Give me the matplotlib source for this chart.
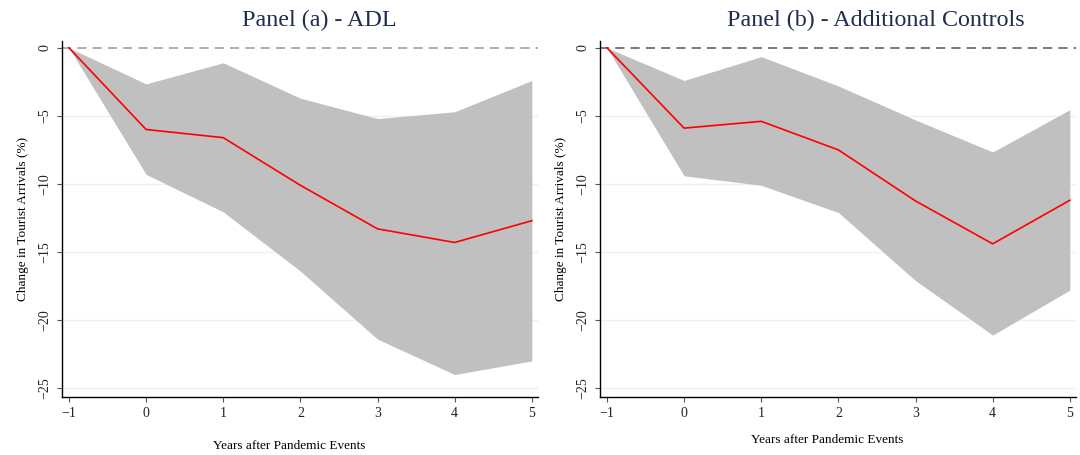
import numpy as np
import matplotlib.pyplot as plt

plt.rcParams['font.family'] = ['Liberation Serif', 'DejaVu Serif']

years = [-1, 0, 1, 2, 3, 4, 5]

# Panel (a): ADL estimates with confidence band
adl_est = [0, -6.0, -6.6, -10.1, -13.3, -14.3, -12.7]
adl_hi = [0, -2.65, -1.1, -3.7, -5.2, -4.7, -2.4]
adl_lo = [0, -9.3, -12.05, -16.4, -21.4, -24.0, -23.0]

# Panel (b): with additional controls
ctl_est = [0, -5.9, -5.4, -7.5, -11.25, -14.4, -11.2]
ctl_hi = [0, -2.4, -0.65, -2.8, -5.3, -7.65, -4.55]
ctl_lo = [0, -9.4, -10.1, -12.1, -17.1, -21.1, -17.8]

yticks = [0, -5, -10, -15, -20, -25]
titles = ['Panel (a) - ADL', 'Panel (b) - Additional Controls']

fig = plt.figure(figsize=(10.8, 4.55), dpi=100)
W, H = 1080, 455
ax_boxes = [(62, 41, 538, 397), (600, 41, 1076, 397)]
title_x = [319, 876]
dash_col = ['#999999', '#555555']
xlab_y = [446, 440]

panels = [(adl_est, adl_hi, adl_lo), (ctl_est, ctl_hi, ctl_lo)]
for i, (est, hi, lo) in enumerate(panels):
    l, t, r, b = ax_boxes[i]
    ax = fig.add_axes([l / W, 1 - b / H, (r - l) / W, (b - t) / H])
    ax.fill_between(years, lo, hi, color='#c0c0c0', linewidth=0, zorder=2)
    ax.plot(years, est, color='#ff0000', linewidth=1.2, zorder=3)
    ax.axhline(0, color=dash_col[i], linestyle=(0, (6, 4)), linewidth=1.1, zorder=1)
    for yv in yticks[1:]:
        ax.axhline(yv, color='#eaf2f3', linewidth=1.0, zorder=0)
    ax.set_xlim(-1.09, 5.08)
    ax.set_ylim(-25.65, 0.5)
    ax.set_xticks(years)
    ax.set_xticklabels(['\u22121', '0', '1', '2', '3', '4', '5'])
    ax.set_yticks(yticks)
    ax.set_yticklabels(['0', '\u22125', '\u221210', '\u221215', '\u221220', '\u221225'],
                       rotation=90, va='center')
    ax.tick_params(axis='both', direction='out', length=3.5, width=0.8,
                   labelsize=10, color='#555555', labelcolor='#222222', pad=4)
    for s in ['top', 'right']:
        ax.spines[s].set_visible(False)
    for s in ['left', 'bottom']:
        ax.spines[s].set_linewidth(1.0)
    ax.set_ylabel('Change in Tourist Arrivals (%)', fontsize=9.5, labelpad=7)
    fig.text(title_x[i] / W, 1 - 20 / H, titles[i], fontsize=17.3, color='#1f2d52',
             ha='center', va='center')
    fig.text(((l + r) / 2 - 11) / W, 1 - xlab_y[i] / H,
             'Years after Pandemic Events', fontsize=9.5, ha='center', va='center')

fig.savefig('out.png', dpi=100)
